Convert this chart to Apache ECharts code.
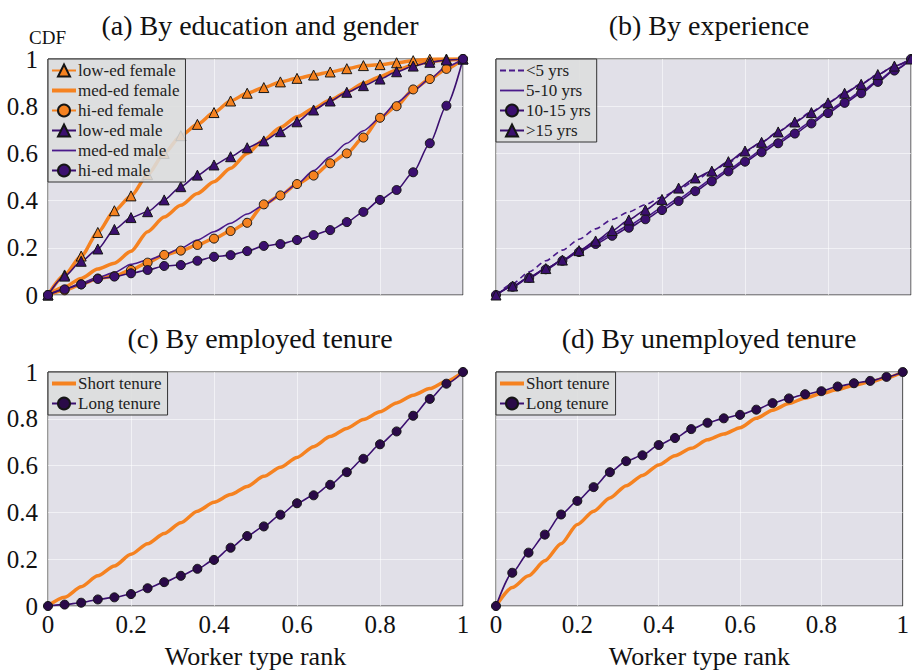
<!DOCTYPE html>
<html>
<head>
<meta charset="utf-8">
<script src="https://cdn.jsdelivr.net/npm/echarts@6/dist/echarts.min.js"></script>
<style>html,body{margin:0;padding:0;background:#fff}#c{width:912px;height:670px}</style>
</head>
<body>
<div id="c"></div>
<script>
// ---------- data ----------
var rank = [0,0.04,0.08,0.12,0.16,0.2,0.24,0.28,0.32,0.36,0.4,0.44,0.48,0.52,0.56,0.6,0.64,0.68,0.72,0.76,0.8,0.84,0.88,0.92,0.96,1];
var tickLabels = ['0','0.2','0.4','0.6','0.8','1'];
var titles = ['(a) By education and gender','(b) By experience','(c) By employed tenure','(d) By unemployed tenure'];

var a_lowF = [0,0.085,0.165,0.265,0.357,0.42,0.51,0.60,0.675,0.723,0.773,0.822,0.855,0.879,0.903,0.918,0.932,0.945,0.959,0.972,0.976,0.984,0.993,0.999,1.0,1];
var a_medF = [0,0.035,0.07,0.11,0.135,0.185,0.268,0.33,0.38,0.43,0.48,0.537,0.60,0.657,0.71,0.755,0.79,0.826,0.86,0.897,0.925,0.953,0.975,0.989,0.996,1];
var a_hiF  = [0,0.02,0.045,0.07,0.08,0.106,0.137,0.17,0.188,0.212,0.239,0.271,0.306,0.384,0.422,0.47,0.506,0.558,0.60,0.667,0.751,0.80,0.871,0.915,0.958,1];
var a_lowM = [0,0.08,0.143,0.195,0.278,0.328,0.353,0.403,0.459,0.508,0.551,0.586,0.624,0.653,0.692,0.734,0.784,0.822,0.859,0.887,0.915,0.946,0.970,0.986,0.996,1];
var a_medM = [0,0.025,0.05,0.075,0.095,0.13,0.148,0.17,0.198,0.233,0.268,0.304,0.343,0.38,0.424,0.47,0.527,0.586,0.643,0.696,0.749,0.815,0.866,0.915,0.968,1];
var a_hiM  = [0,0.024,0.045,0.068,0.078,0.092,0.106,0.123,0.127,0.145,0.162,0.169,0.186,0.208,0.216,0.233,0.254,0.275,0.309,0.352,0.403,0.445,0.52,0.643,0.802,1];

var b_lt5   = [0,0.048,0.098,0.145,0.19,0.236,0.28,0.32,0.352,0.383,0.415,0.447,0.485,0.525,0.56,0.605,0.648,0.692,0.735,0.776,0.816,0.857,0.895,0.935,0.97,1];
var b_5to10 = [0,0.037,0.075,0.112,0.148,0.188,0.224,0.26,0.295,0.331,0.37,0.408,0.45,0.49,0.532,0.573,0.613,0.652,0.693,0.735,0.779,0.821,0.862,0.908,0.955,1];
var b_10to15= [0,0.035,0.073,0.109,0.145,0.182,0.216,0.251,0.285,0.321,0.36,0.398,0.44,0.482,0.524,0.565,0.605,0.643,0.684,0.727,0.771,0.814,0.855,0.903,0.951,1];
var b_gt15  = [0,0.038,0.075,0.112,0.148,0.188,0.229,0.273,0.318,0.36,0.405,0.453,0.496,0.525,0.565,0.61,0.647,0.691,0.733,0.773,0.814,0.855,0.893,0.934,0.97,1];

var c_short = [0,0.037,0.082,0.129,0.171,0.221,0.266,0.31,0.356,0.405,0.443,0.476,0.511,0.554,0.593,0.635,0.681,0.724,0.759,0.797,0.83,0.868,0.901,0.929,0.96,1];
var c_long  = [0,0.006,0.014,0.028,0.037,0.051,0.076,0.102,0.129,0.159,0.197,0.249,0.299,0.34,0.39,0.439,0.473,0.518,0.572,0.629,0.691,0.746,0.813,0.885,0.95,1];
var d_short = [0,0.079,0.129,0.193,0.266,0.348,0.405,0.462,0.514,0.558,0.603,0.642,0.674,0.71,0.735,0.762,0.802,0.837,0.865,0.889,0.908,0.925,0.943,0.958,0.975,1];
var d_long  = [0,0.142,0.228,0.305,0.391,0.449,0.508,0.572,0.619,0.644,0.688,0.718,0.756,0.783,0.802,0.817,0.839,0.867,0.887,0.905,0.918,0.938,0.952,0.962,0.979,1];

// ---------- styles ----------
var ORANGE = '#f58220', PURPLE = '#3b0f6f', PURPLE2 = '#4a1a8a', FONT = '"Liberation Serif", "DejaVu Serif", serif';
var PLOTBG = '#e1e0e8';
var ICON_THICK = 'path://M0,0L24,0L24,4L0,4Z';
var ICON_THIN  = 'path://M0,0L24,0L24,1.8L0,1.8Z';
var ICON_DASH  = 'path://M0,0h6v1.8h-6zM9,0h6v1.8h-6zM18,0h6v1.8h-6z';

function fmt(v){ var s = tickLabels[Math.round(v*5)]; return s === undefined ? '' : s; }

var grids = [
  {left:48, top:59, width:415, height:236},
  {left:496, top:59, width:415, height:236},
  {left:48, top:372, width:415, height:235},
  {left:496, top:372, width:415, height:235}
];
grids.forEach(function(g){ g.show = true; g.backgroundColor = PLOTBG; g.borderColor = '#333'; g.borderWidth = 1; });

var xAxes = [], yAxes = [];
for (var i = 0; i < 4; i++) {
  var bottom = i >= 2, left = (i % 2) === 0;
  xAxes.push({
    type:'value', gridIndex:i, min:0, max:1, interval:0.2,
    axisLine:{show:false}, axisTick:{show:false},
    axisLabel:{show:bottom, formatter:fmt, fontFamily:FONT, fontSize:25, color:'#111', margin:6},
    splitLine:{show:true, lineStyle:{color:'rgba(255,255,255,0.55)', width:1}},
    name: bottom ? 'Worker type rank' : '', nameLocation:'middle', nameGap:37,
    nameTextStyle:{fontFamily:FONT, fontSize:26, color:'#111'}
  });
  yAxes.push({
    type:'value', gridIndex:i, min:0, max:1, interval:0.2,
    axisLine:{show:false}, axisTick:{show:false},
    axisLabel:{show:left, formatter:fmt, fontFamily:FONT, fontSize:25, color:'#111', margin:10},
    splitLine:{show:true, lineStyle:{color:'rgba(255,255,255,0.55)', width:1}}
  });
}

function mk(name, ys, gi, opt) {
  var hasSym = !!opt.symbol;
  return {
    name:name, type:'line', xAxisIndex:gi, yAxisIndex:gi,
    data: rank.map(function(x, k){ return [x, ys[k]]; }),
    smooth: 0.25, smoothMonotone:'x',
    showSymbol: hasSym, symbol: opt.symbol || 'none', symbolSize: opt.size || 9,
    lineStyle:{color:opt.color, width:opt.width, type:opt.dash ? [6,4] : 'solid'},
    itemStyle: hasSym ? {color:opt.fill || opt.color, borderColor:'#151515', borderWidth:1}
                      : {color:opt.color, borderWidth:0},
    emphasis:{disabled:true}, animation:false, z: opt.z || 2
  };
}

var series = [
  mk('low-ed female', a_lowF, 0, {color:ORANGE, width:3.5, symbol:'triangle', size:10}),
  mk('med-ed female', a_medF, 0, {color:ORANGE, width:3.5}),
  mk('hi-ed female',  a_hiF,  0, {color:ORANGE, width:3.5, symbol:'circle', size:9}),
  mk('low-ed male',   a_lowM, 0, {color:PURPLE, width:1.6, symbol:'triangle', size:10}),
  mk('med-ed male',   a_medM, 0, {color:PURPLE2, width:1.6}),
  mk('hi-ed male',    a_hiM,  0, {color:PURPLE, width:1.6, symbol:'circle', size:9}),

  mk('<5 yrs',   b_lt5,    1, {color:PURPLE2, width:1.6, dash:true}),
  mk('5-10 yrs', b_5to10,  1, {color:PURPLE2, width:1.6}),
  mk('10-15 yrs',b_10to15, 1, {color:PURPLE, width:1.6, symbol:'circle', size:9}),
  mk('>15 yrs',  b_gt15,   1, {color:PURPLE, width:1.6, symbol:'triangle', size:10}),

  mk('Short tenure', c_short, 2, {color:ORANGE, width:3.5}),
  mk('Long tenure',  c_long,  2, {color:PURPLE, width:1.6, symbol:'circle', size:9, fill:'#2a0a48'}),
  mk('Short tenure', d_short, 3, {color:ORANGE, width:3.5}),
  mk('Long tenure',  d_long,  3, {color:PURPLE, width:1.6, symbol:'circle', size:9, fill:'#2a0a48'})
];

function leg(left, top, items) {
  return {
    left:left, top:top, orient:'vertical', data:items, selectedMode:false,
    backgroundColor:'rgba(220,221,221,0.88)', borderColor:'#333', borderWidth:1, borderRadius:0,
    padding:[3,6,3,3], itemGap:3, itemWidth:24, itemHeight:15,
    textStyle:{fontFamily:FONT, fontSize:17, color:'#222', padding:[0,0,0,-3]}
  };
}

var titleOpts = [
  {text:titles[0], left:255, top:6}, {text:titles[1], left:704, top:6},
  {text:titles[2], left:255, top:319}, {text:titles[3], left:704, top:319}
].map(function(t){ t.textAlign = 'center'; t.textStyle = {fontFamily:FONT, fontSize:28, fontWeight:'normal', color:'#111'}; return t; });
titleOpts.push({text:'CDF', left:24, top:23, textStyle:{fontFamily:FONT, fontSize:19, fontWeight:'normal', color:'#111'}});

var chart = echarts.init(document.getElementById('c'), null, {renderer:'svg'});
chart.setOption({
  backgroundColor:'#fff', animation:false,
  title: titleOpts,
  grid: grids, xAxis: xAxes, yAxis: yAxes,
  legend: [
    leg(48, 59, ['low-ed female', {name:'med-ed female', icon:ICON_THICK}, 'hi-ed female', 'low-ed male', {name:'med-ed male', icon:ICON_THIN}, 'hi-ed male']),
    leg(496, 59, [{name:'<5 yrs', icon:ICON_DASH}, {name:'5-10 yrs', icon:ICON_THIN}, '10-15 yrs', '>15 yrs']),
    leg(48, 372, [{name:'Short tenure', icon:ICON_THICK}, 'Long tenure']),
    leg(496, 372, [{name:'Short tenure', icon:ICON_THICK}, 'Long tenure'])
  ],
  series: series
});
</script>
</body>
</html>
